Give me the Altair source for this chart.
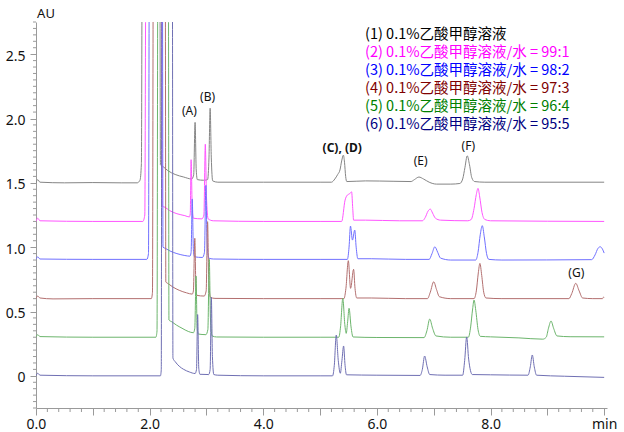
import altair as alt
import pandas as pd

# ---------------- data ----------------
trace_names = ["1", "2", "3", "4", "5", "6"]
trace_colors = ["#858585", "#ff55ff", "#7070ff", "#b36f6f", "#6cb56c", "#6f6fb3"]

trace1 = [(0.00,1.50),(0.03,1.525),(0.07,1.505),(0.5,1.50),(1.0,1.502),(1.5,1.50),(1.78,1.50),(1.83,1.52),
          (1.855,1.65),(1.87,3.3),(2.18,3.3),(2.19,1.64),(2.24,1.625),(2.32,1.595),(2.45,1.565),(2.60,1.545),
          (2.74,1.53),(2.775,1.56),(2.80,1.97),(2.82,1.60),(2.84,1.525),(2.95,1.52),(3.02,1.525),(3.045,1.70),
          (3.065,2.08),(3.085,1.70),(3.11,1.515),(3.20,1.505),(4.0,1.505),(5.0,1.505),(5.20,1.505),(5.26,1.53),
          (5.31,1.565),(5.35,1.60),(5.38,1.67),(5.41,1.715),(5.43,1.66),(5.45,1.55),(5.47,1.51),(5.8,1.515),
          (6.3,1.512),(6.60,1.51),(6.66,1.525),(6.74,1.545),(6.82,1.53),(6.92,1.505),(7.05,1.49),(7.3,1.49),
          (7.46,1.495),(7.51,1.53),(7.55,1.62),(7.59,1.71),(7.63,1.64),(7.67,1.54),(7.72,1.51),(7.9,1.505),(10.0,1.505)]

trace2 = [(0.00,1.20),(0.03,1.225),(0.07,1.205),(1.0,1.20),(1.88,1.20),(1.915,1.25),(1.935,3.3),(2.21,3.3),
          (2.22,1.32),(2.27,1.31),(2.35,1.285),(2.48,1.26),(2.62,1.245),(2.70,1.235),(2.715,1.26),(2.73,1.68),
          (2.75,1.30),(2.77,1.225),(2.92,1.22),(2.955,1.25),(2.98,1.80),(3.00,1.40),(3.03,1.22),(3.12,1.205),
          (4.0,1.20),(5.0,1.20),(5.38,1.20),(5.44,1.366),(5.48,1.405),(5.52,1.415),(5.555,1.43),(5.575,1.30),
          (5.59,1.21),(5.8,1.21),(6.4,1.205),(6.80,1.205),(6.85,1.23),(6.90,1.28),(6.94,1.296),(6.98,1.265),
          (7.03,1.225),(7.12,1.21),(7.6,1.205),(7.66,1.215),(7.71,1.30),(7.75,1.41),(7.78,1.457),(7.81,1.39),
          (7.85,1.27),(7.90,1.215),(8.0,1.205),(10.0,1.20)]

trace3 = [(0.00,0.905),(0.03,0.925),(0.07,0.908),(1.0,0.905),(1.95,0.905),(1.98,0.95),(1.995,3.3),(2.225,3.3),
          (2.235,1.00),(2.28,0.99),(2.36,0.97),(2.48,0.95),(2.62,0.935),(2.71,0.93),(2.73,0.96),(2.75,1.375),
          (2.77,0.98),(2.79,0.925),(2.93,0.92),(2.965,0.96),(2.99,1.48),(3.01,1.05),(3.04,0.915),(3.12,0.908),
          (4.0,0.905),(5.0,0.905),(5.48,0.905),(5.51,1.00),(5.535,1.164),(5.57,1.055),(5.61,1.133),(5.635,1.00),
          (5.665,0.91),(5.9,0.91),(6.5,0.905),(6.92,0.905),(6.97,0.95),(7.02,1.003),(7.07,0.96),(7.12,0.915),
          (7.3,0.90),(7.74,0.90),(7.78,0.96),(7.82,1.10),(7.855,1.167),(7.89,1.08),(7.93,0.95),(7.97,0.905),
          (8.2,0.90),(9.78,0.903),(9.84,0.94),(9.89,0.99),(9.93,1.003),(9.97,0.985),(10.0,0.954)]

trace4 = [(0.00,0.60),(0.03,0.62),(0.07,0.605),(0.3,0.598),(1.0,0.60),(2.03,0.60),(2.05,0.65),(2.065,3.3),
          (2.275,3.3),(2.285,0.73),(2.33,0.715),(2.41,0.69),(2.52,0.665),(2.65,0.645),(2.75,0.635),(2.77,0.66),
          (2.795,1.069),(2.815,0.68),(2.835,0.625),(2.96,0.62),(2.995,0.66),(3.02,1.198),(3.04,0.75),(3.07,0.61),
          (3.15,0.602),(4.0,0.60),(5.0,0.60),(5.42,0.60),(5.455,0.68),(5.497,0.895),(5.537,0.68),(5.59,0.828),
          (5.615,0.68),(5.645,0.605),(5.9,0.605),(6.5,0.60),(6.89,0.60),(6.94,0.65),(7.0,0.731),(7.05,0.67),
          (7.10,0.615),(7.3,0.60),(7.71,0.60),(7.75,0.66),(7.785,0.80),(7.813,0.874),(7.845,0.78),(7.88,0.65),
          (7.92,0.605),(8.2,0.60),(9.38,0.60),(9.43,0.64),(9.50,0.719),(9.56,0.66),(9.62,0.605),(9.8,0.60),
          (9.97,0.60),(9.99,0.612),(10.0,0.608)]

trace5 = [(0.00,0.30),(0.03,0.32),(0.07,0.305),(1.0,0.30),(2.11,0.30),(2.13,0.35),(2.145,3.3),(2.33,3.3),
          (2.34,0.434),(2.39,0.42),(2.47,0.395),(2.57,0.37),(2.68,0.345),(2.77,0.335),(2.795,0.37),(2.817,0.776),
          (2.835,0.38),(2.855,0.325),(2.99,0.32),(3.025,0.36),(3.05,0.905),(3.07,0.45),(3.10,0.31),(3.18,0.302),
          (4.0,0.30),(5.0,0.30),(5.33,0.30),(5.36,0.38),(5.40,0.602),(5.435,0.40),(5.46,0.33),(5.485,0.42),
          (5.51,0.525),(5.545,0.38),(5.58,0.302),(6.0,0.298),(6.83,0.297),(6.88,0.35),(6.93,0.441),(6.98,0.37),
          (7.04,0.31),(7.3,0.30),(7.61,0.30),(7.65,0.38),(7.685,0.52),(7.71,0.589),(7.74,0.51),(7.78,0.36),
          (7.82,0.307),(8.0,0.303),(8.5,0.295),(8.92,0.285),(8.98,0.30),(9.02,0.37),(9.065,0.426),(9.11,0.37),
          (9.17,0.31),(9.4,0.304),(10.0,0.303)]

trace6 = [(0.00,0.0),(0.03,0.02),(0.07,0.005),(1.0,0.0),(2.19,0.0),(2.205,0.05),(2.215,3.3),(2.40,3.3),
          (2.41,0.138),(2.45,0.11),(2.52,0.075),(2.60,0.05),(2.70,0.03),(2.80,0.018),(2.825,0.05),(2.845,0.476),
          (2.865,0.06),(2.885,0.012),(3.04,0.01),(3.065,0.05),(3.086,0.609),(3.105,0.15),(3.13,0.01),(3.2,0.005),
          (4.0,0.0),(5.0,0.0),(5.22,0.0),(5.25,0.08),(5.285,0.317),(5.32,0.12),(5.356,0.02),(5.385,0.12),
          (5.414,0.232),(5.44,0.08),(5.465,0.008),(6.0,0.005),(6.76,0.003),(6.80,0.05),(6.84,0.154),(6.885,0.07),
          (6.93,0.01),(7.2,0.005),(7.51,0.005),(7.545,0.12),(7.58,0.302),(7.615,0.13),(7.68,0.01),(8.0,0.008),
          (8.66,0.005),(8.70,0.07),(8.735,0.162),(8.77,0.07),(8.81,0.005),(9.3,-0.003),(10.0,-0.012)]

traces = [trace1, trace2, trace3, trace4, trace5, trace6]

legend_labels = ["(1) 0.1%乙酸甲醇溶液",
                 "(2) 0.1%乙酸甲醇溶液/水 = 99:1",
                 "(3) 0.1%乙酸甲醇溶液/水 = 98:2",
                 "(4) 0.1%乙酸甲醇溶液/水 = 97:3",
                 "(5) 0.1%乙酸甲醇溶液/水 = 96:4",
                 "(6) 0.1%乙酸甲醇溶液/水 = 95:5"]
legend_colors = ["#000000", "#ff00ff", "#0000ff", "#800000", "#008000", "#000080"]

peak_labels = ["(A)", "(B)", "(C), (D)", "(E)", "(F)", "(G)"]
peak_t = [2.70, 3.02, 5.39, 6.77, 7.61, 9.51]
peak_v = [2.06, 2.17, 1.77, 1.67, 1.79, 0.80]
peak_bold = [False, False, True, False, False, False]

# axis ticks: major every 1 min / 0.5 AU, minor every 0.2 min / 0.05 AU
x_major = [float(k) for k in range(11)]
x_minor = [round(0.2 * k, 1) for k in range(51) if k % 5 != 0]
y_major = [0.0, 0.5, 1.0, 1.5, 2.0, 2.5]
y_minor = [round(-0.25 + 0.05 * k, 2) for k in range(61) if (k - 5) % 10 != 0]

# ---------------- tables ----------------
rows = []
for name, tr in zip(trace_names, traces):
    for t, v in tr:
        rows.append({"t": t, "v": v, "trace": name})
df = pd.DataFrame(rows)

leg_df = pd.DataFrame({"label": legend_labels, "color": legend_colors, "idx": list(range(6))})
ann_df = pd.DataFrame({"label": peak_labels, "t": peak_t, "v": peak_v, "bold": peak_bold})
xminor_df = pd.DataFrame({"t": x_minor})
yminor_df = pd.DataFrame({"v": y_minor})

W, H = 571, 386
FONT = "Noto Sans"
AXIS_GRAY = "#9a9a9a"

x_scale = alt.Scale(domain=[0, 10.05], nice=False, zero=False)
y_scale = alt.Scale(domain=[-0.25, 2.75], nice=False, zero=False)

x_axis = alt.Axis(
    values=x_major,
    labelExpr="datum.value == 10 ? 'min' : (datum.value % 2 == 0 ? format(datum.value, '.1f') : '')",
    tickSize=7, labelPadding=2, labelOverlap=False, labelFlush=False,
    grid=False, domainColor=AXIS_GRAY, tickColor=AXIS_GRAY,
    labelFont=FONT, labelFontSize=14, labelColor="#111111", title=None,
)
y_axis = alt.Axis(
    values=y_major,
    labelExpr="datum.value == 0 ? '0' : format(datum.value, '.1f')",
    tickSize=6, labelPadding=5, labelOverlap=False, labelFlush=False, labelOffset=2,
    grid=False, domainColor=AXIS_GRAY, tickColor=AXIS_GRAY,
    labelFont=FONT, labelFontSize=14, labelColor="#111111", title=None,
)

X = alt.X("t:Q", scale=x_scale, axis=x_axis)
Y = alt.Y("v:Q", scale=y_scale, axis=y_axis)

lines = alt.Chart(df).mark_line(clip=True, interpolate="monotone", strokeWidth=1).encode(
    x=X, y=Y,
    color=alt.Color("trace:N", scale=alt.Scale(domain=trace_names, range=trace_colors), legend=None),
)

x_minor_ticks = alt.Chart(xminor_df).mark_rule(color=AXIS_GRAY, strokeWidth=1).encode(
    x=X, y=alt.value(H), y2=alt.value(H + 4),
)
y_minor_ticks = alt.Chart(yminor_df).mark_rule(color=AXIS_GRAY, strokeWidth=1).encode(
    y=Y, x=alt.value(0), x2=alt.value(-3),
)

ann_base = alt.Chart(ann_df).encode(x=X, y=Y, text="label:N")
ann_normal = ann_base.mark_text(font=FONT, fontSize=12, align="center", baseline="middle",
                                color="#111111").transform_filter("!datum.bold")
ann_bold = ann_base.mark_text(font=FONT, fontSize=12, fontWeight="bold", align="center", baseline="middle",
                              color="#111111").transform_filter("datum.bold")

unit_label = alt.Chart(pd.DataFrame({"u": ["AU"]})).mark_text(
    font=FONT, fontSize=13, align="center", baseline="middle", color="#111111"
).encode(x=alt.value(10), y=alt.value(-8), text="u:N")

legend = alt.Chart(leg_df).mark_text(font="Noto Sans CJK SC", fontSize=14.5, align="left", baseline="middle").transform_calculate(
    xp="329", yp="13 + 17.9 * datum.idx"
).encode(
    x=alt.X("xp:Q", scale=None),
    y=alt.Y("yp:Q", scale=None),
    text="label:N",
    color=alt.Color("color:N", scale=None),
)

chart = alt.layer(lines, x_minor_ticks, y_minor_ticks, ann_normal, ann_bold, unit_label, legend).properties(
    width=W, height=H,
    autosize=alt.AutoSizeParams(type="none"),
    padding={"left": 36, "top": 22, "right": 17, "bottom": 24},
    background="white",
).configure_view(strokeWidth=0)

chart.save("out.html", embed_options={"renderer": "svg", "actions": False})
